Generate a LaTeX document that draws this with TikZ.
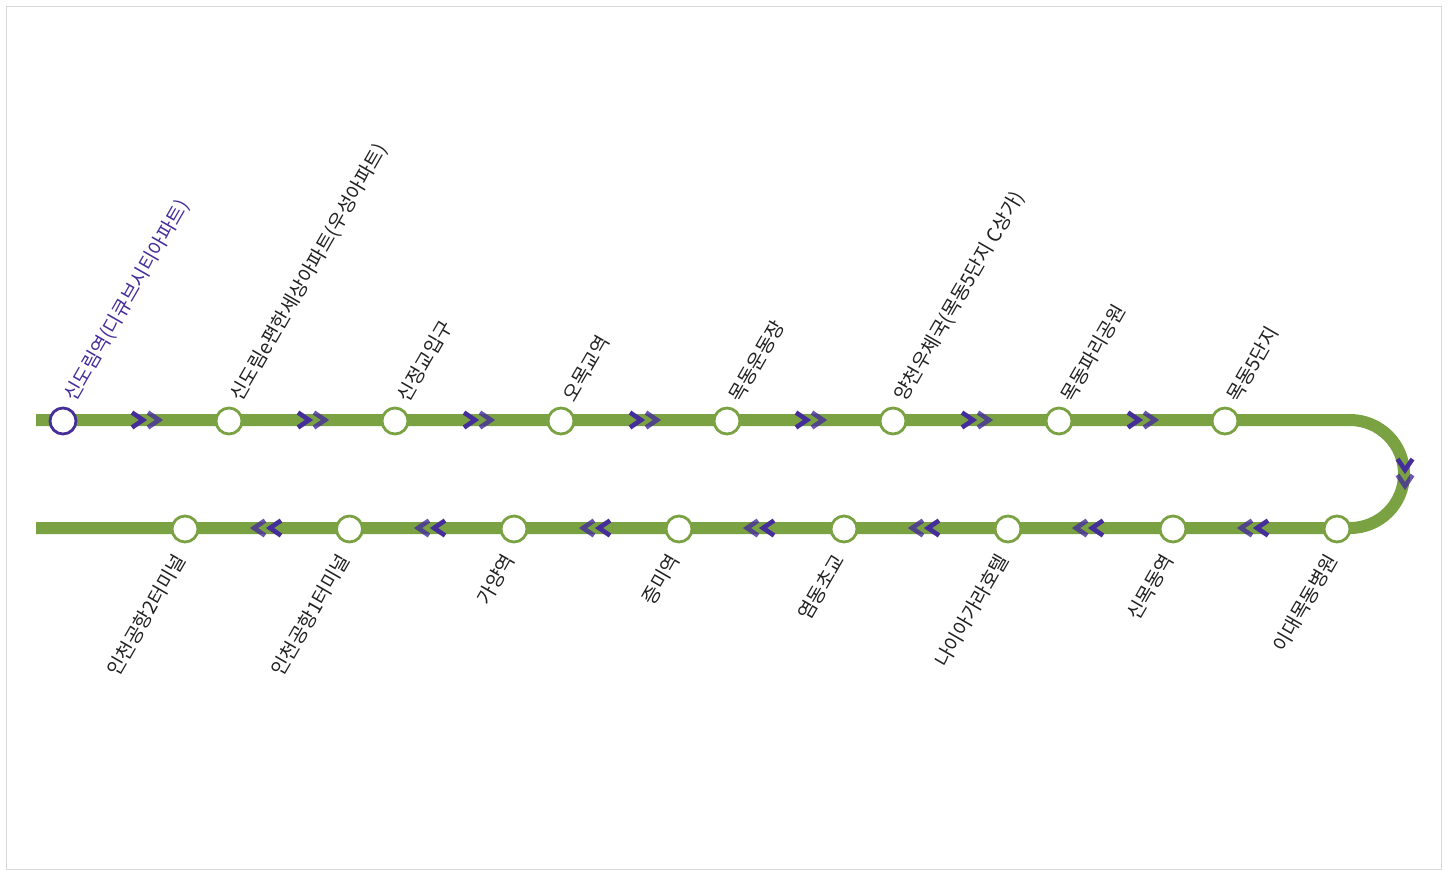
\documentclass[tikz,border=0pt]{standalone}
\usepackage{fontspec}
\setmainfont{Noto Sans CJK KR}
\definecolor{linegreen}{HTML}{7AA142}
\definecolor{linepurple}{HTML}{452E9A}
\definecolor{labelgray}{HTML}{222222}
\tikzset{
    station/.style={circle,draw=linegreen,fill=white,line width=2.8pt,minimum size=26pt,inner sep=0pt},
    startstation/.style={station,draw=linepurple},
    upname/.style={rotate=60,anchor=west,inner sep=0pt,font=\fontsize{19.5}{19.5}\selectfont,text=labelgray},
    downname/.style={rotate=60,anchor=east,inner sep=0pt,font=\fontsize{19.5}{19.5}\selectfont,text=labelgray},
    chev/.style={draw=linepurple,line width=4.6pt},
}
% one pair of chevrons, #1 = centre, #2 = direction
\newcommand{\chevpair}[2]{
    \begin{scope}[shift={(#1)},rotate=#2]
        \draw[chev] (-15,-7.5) -- (-4,0) -- (-15,7.5);
        \draw[chev,opacity=.8] (1,-7.5) -- (12,0) -- (1,7.5);
    \end{scope}
}
\begin{document}
\begin{tikzpicture}[x=1pt,y=-1pt]
    \useasboundingbox (0,0) rectangle (1448,876);
    \draw[black!15,line width=1pt] (6.5,6.5) rectangle (1441.5,869.5);

    \coordinate (lineA) at (36,420);
    \coordinate (lineB) at (1350,420);
    \coordinate (lineD) at (36,528);
    \draw[linegreen,line width=12pt] (lineA) -- (lineB) arc[start angle=90,end angle=-90,radius=54pt] -- (lineD);

    % upper row
    \node[startstation] (up1) at (63,421) {};
    \node[upname,text=linepurple] (upname1) at (70,400) {신도림역(디큐브시티아파트)};
    \foreach \i/\x/\name in {2/229/신도림e편한세상아파트(우성아파트),3/395/신정교입구,4/561/오목교역,5/727/목동운동장,6/893/양천우체국(목동5단지 C상가),7/1059/목동파리공원,8/1225/목동5단지}{
        \node[station] (up\i) at (\x,421) {};
        \node[upname] (upname\i) at (\x+7,400) {\name};
    }
    \foreach \x in {147,313,479,645,811,977,1143}{
        \chevpair{\x,420}{0}
    }
    \chevpair{1405,474}{-90}

    % lower row
    \foreach \i/\x/\name in {1/1337/이대목동병원,2/1173/신목동역,3/1008/나이아가라호텔,4/844/염동초교,5/679/증미역,6/514/가양역,7/349.5/인천공항1터미널,8/185/인천공항2터미널}{
        \node[station] (down\i) at (\x,529) {};
        \node[downname] (downname\i) at (\x-5,556) {\name};
    }
    \foreach \x in {1253,1088,924,759,595,430,266}{
        \chevpair{\x,528}{180}
    }
\end{tikzpicture}
\end{document}
